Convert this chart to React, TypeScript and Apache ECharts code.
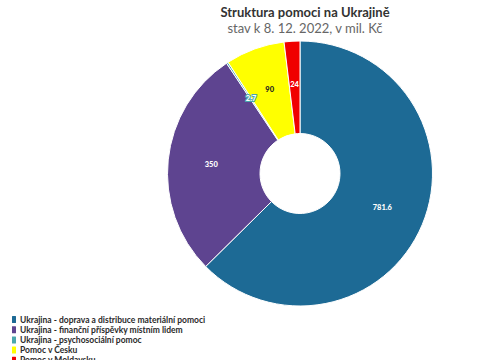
import React, { useEffect, useRef } from "react";
import * as echarts from "echarts";

const categories = [
  "Ukrajina - doprava a distribuce materiální pomoci",
  "Ukrajina - finanční příspěvky místním lidem",
  "Ukrajina - psychosociální pomoc",
  "Pomoc v Česku",
  "Pomoc v Moldavsku",
];
const values = [781.6, 350, 2.7, 90, 24];
const colors = ["#1d6a95", "#5e4490", "#4aa7ad", "#ffff00", "#f00000"];
const labelColors = ["#ffffff", "#ffffff", "#ffffff", "#222222", "#ffffff"];

const titleText = "Struktura pomoci na Ukrajině";
const subtitleText = "stav k 8. 12. 2022, v mil. Kč";

export default function App() {
  const ref = useRef<HTMLDivElement>(null);
  useEffect(() => {
    if (!ref.current) return;
    const chart = echarts.init(ref.current, undefined, { renderer: "svg" });
    chart.setOption({
      animation: false,
      backgroundColor: "#ffffff",
      title: {
        text: titleText,
        subtext: subtitleText,
        left: 300,
        textAlign: "center",
        top: 0,
        itemGap: 3,
        textStyle: { fontFamily: "Lato", fontWeight: "bold", fontSize: 13, color: "#333333" },
        subtextStyle: { fontFamily: "Lato", fontSize: 13, color: "#666666" },
      },
      legend: {
        orient: "vertical",
        left: 10,
        top: 314,
        height: 80,
        padding: 0,
        itemWidth: 6,
        itemHeight: 9,
        itemGap: -0.8,
        icon: "roundRect",
        textStyle: {
          fontFamily: "Lato",
          fontWeight: "bold",
          fontSize: 8.5,
          lineHeight: 9,
          color: "#2a2a2a",
          padding: [0, 0, 0, -2],
        },
        data: categories,
      },
      series: [
        {
          type: "pie",
          center: [300, 173.5],
          radius: [40, 132.5],
          startAngle: 90,
          clockwise: true,
          avoidLabelOverlap: false,
          itemStyle: { borderColor: "#ffffff", borderWidth: 1 },
          label: {
            show: true,
            position: "inside",
            formatter: "{c}",
            fontFamily: "Lato",
            fontWeight: 900,
            fontSize: 7.5,
          },
          labelLine: { show: false },
          data: categories.map((name, i) => ({
            name,
            value: values[i],
            itemStyle: { color: colors[i] },
            label: {
              color: labelColors[i],
              textBorderColor: i === 2 ? colors[i] : "transparent",
              textBorderWidth: i === 2 ? 2 : 0,
            },
          })),
        },
      ],
    });
    return () => chart.dispose();
  }, []);
  return <div ref={ref} style={{ width: 485, height: 360, position: "absolute", left: 0, top: 0 }} />;
}
